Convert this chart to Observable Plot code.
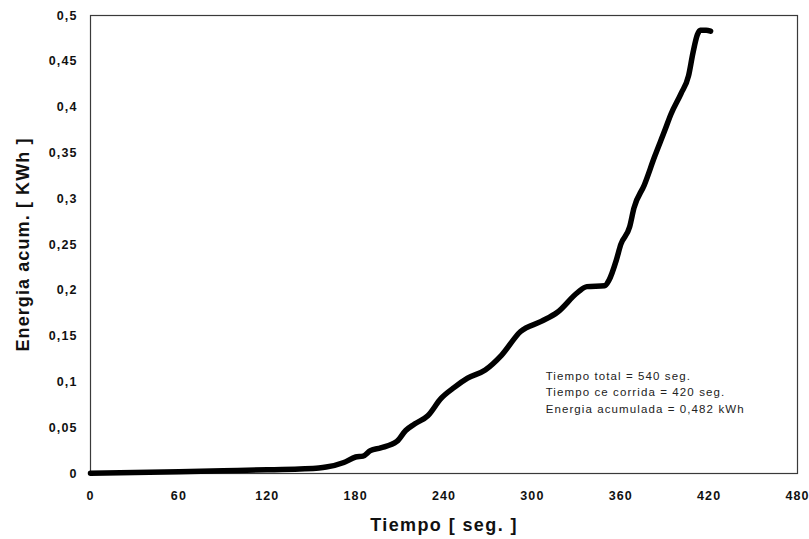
<!DOCTYPE html>
<html>
<head>
<meta charset="utf-8">
<script src="https://cdn.jsdelivr.net/npm/d3@7"></script>
<script src="https://cdn.jsdelivr.net/npm/@observablehq/plot@0.6"></script>
<style>
  html, body { margin: 0; padding: 0; background: #fff; }
  #chart svg { font-family: "Liberation Sans", Arial, sans-serif; }
  #chart [aria-label="x-axis tick label"] text,
  #chart [aria-label="y-axis tick label"] text { letter-spacing: 1.1px; }
</style>
</head>
<body>
<div id="chart"></div>
<script>
// Accumulated energy over time (seconds, kWh)
const tiempo = [0, 30, 60, 90, 120, 142, 155, 160, 172, 180, 185, 190, 197, 208, 214, 220, 229, 238, 247, 256, 268, 279, 292, 306, 317, 331, 337, 349, 352, 357, 360, 366, 369, 376, 383, 390, 394, 401, 406, 409, 412, 414, 418, 421];
const energia = [0.0003, 0.001, 0.002, 0.003, 0.004, 0.005, 0.006, 0.007, 0.012, 0.018, 0.019, 0.025, 0.028, 0.035, 0.047, 0.054, 0.063, 0.082, 0.094, 0.104, 0.113, 0.129, 0.155, 0.166, 0.176, 0.198, 0.204, 0.205, 0.211, 0.233, 0.250, 0.269, 0.290, 0.315, 0.346, 0.375, 0.392, 0.415, 0.434, 0.459, 0.479, 0.484, 0.484, 0.483];

const xTicks = [0, 60, 120, 180, 240, 300, 360, 420, 480];
const yTicks = [0, 0.05, 0.1, 0.15, 0.2, 0.25, 0.3, 0.35, 0.4, 0.45, 0.5];

const xTitle = "Tiempo [ seg. ]";
const yTitle = "Energia acum. [ KWh ]";
const summaryLines = [
  "Tiempo total = 540 seg.",
  "Tiempo ce corrida = 420 seg.",
  "Energia acumulada = 0,482 kWh"
];
const summaryPos = {t: 309, e: 0.09};

const serie = tiempo.map((t, i) => ({t, e: energia[i]}));
const coma = d => String(d).replace(".", ",");

const chart = Plot.plot({
  width: 809,
  height: 539,
  marginLeft: 90,
  marginRight: 12,
  marginTop: 15,
  marginBottom: 66,
  x: {domain: [0, 480]},
  y: {domain: [0, 0.5]},
  marks: [
    Plot.frame({stroke: "#3a3a3a", strokeWidth: 1.2}),
    Plot.axisX({ticks: xTicks, tickSize: 0, tickPadding: 18, label: null,
      fontSize: 12.5, fontWeight: "bold", fill: "#111"}),
    Plot.axisY({ticks: yTicks, tickSize: 0, tickPadding: 13, label: null,
      tickFormat: coma, fontSize: 12.5, fontWeight: "bold", fill: "#111"}),
    Plot.line(serie, {x: "t", y: "e", stroke: "#000", strokeWidth: 5.5,
      curve: "monotone-x", strokeLinecap: "round", strokeLinejoin: "round"}),
    Plot.text([summaryLines.join("\n")], {x: () => summaryPos.t, y: () => summaryPos.e,
      textAnchor: "start", lineAnchor: "middle", lineHeight: 1.43,
      fontSize: 11.5, fill: "#222"}),
    Plot.text([xTitle], {frameAnchor: "bottom", dy: 52, textAnchor: "middle", lineAnchor: "middle",
      fontSize: 18, fontWeight: "bold", fill: "#111"}),
    Plot.text([yTitle], {frameAnchor: "left", dx: -67, rotate: -90, textAnchor: "middle", lineAnchor: "middle",
      fontSize: 18, fontWeight: "bold", fill: "#111"})
  ]
});

// Widen the spacing of the titles and the summary note
chart.querySelectorAll("text").forEach(el => {
  const s = el.textContent;
  if (s === xTitle) el.style.letterSpacing = "1.4px";
  else if (s === yTitle) el.style.letterSpacing = "1.1px";
  else if (summaryLines.some(l => s.includes(l))) el.style.letterSpacing = "1.1px";
});

document.getElementById("chart").append(chart);
</script>
</body>
</html>
